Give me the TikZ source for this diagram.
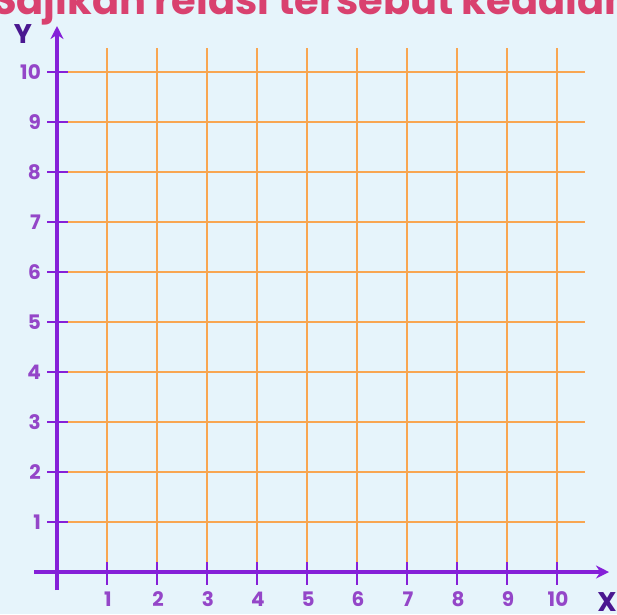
\documentclass[tikz,border=0pt]{standalone}
\usepackage{fontspec}
\setmainfont{Poppins}
\usetikzlibrary{arrows.meta}
\definecolor{bgblue}{HTML}{E6F4FB}
\definecolor{gridor}{HTML}{F8A651}
\definecolor{axpurple}{HTML}{8520D8}
\definecolor{numpurple}{HTML}{9446C8}
\definecolor{lblpurple}{HTML}{4A1790}
\definecolor{titlepink}{HTML}{D9416F}
\tikzset{
  gridline/.style={gridor, line width=2pt},
  axisline/.style={axpurple, line width=3.6pt},
  tickmark/.style={axpurple, line width=2.4pt},
  numlabel/.style={numpurple, font=\bfseries\fontsize{20}{20}\selectfont, inner sep=0pt},
  axislabel/.style={lblpurple, font=\bfseries\fontsize{27}{27}\selectfont, inner sep=0pt},
}
\begin{document}
\begin{tikzpicture}[x=1pt,y=-1pt]
\useasboundingbox (0,0) rectangle (617,614);
\clip (0,0) rectangle (617,614);
\fill[bgblue] (0,0) rectangle (617,614);
% title (cut off at the top)
\node[anchor=base west, inner sep=0pt, text=titlepink, font=\bfseries\fontsize{40}{40}\selectfont] (title) at (-8,14) {Sajikan relasi tersebut kedalam};
% grid
\foreach \i in {1,...,10} {
  \draw[gridline] (57+50*\i,48) -- (57+50*\i,572);
  \draw[gridline] (57,572-50*\i) -- (585,572-50*\i);
}
% axes
\coordinate (ystart) at (57,590);
\coordinate (ytip) at (57,26);
\coordinate (xstart) at (34,572);
\coordinate (xtip) at (609,572);
\draw[axisline, -{Stealth[length=13pt,width=13pt]}] (ystart) -- (ytip);
\draw[axisline, -{Stealth[length=13pt,width=13pt]}] (xstart) -- (xtip);
% ticks and labels
\foreach \i in {1,...,10} {
  \draw[tickmark] (57+50*\i,562) -- (57+50*\i,585);
  \draw[tickmark] (47,572-50*\i) -- (68,572-50*\i);
  \node[numlabel] (xl\i) at (57+50*\i+1,599) {\i};
  \node[numlabel, anchor=east] (yl\i) at (41,572-50*\i) {\i};
}
\node[axislabel] (ylab) at (23,34) {Y};
\node[axislabel] (xlab) at (607,602) {X};
\end{tikzpicture}
\end{document}
